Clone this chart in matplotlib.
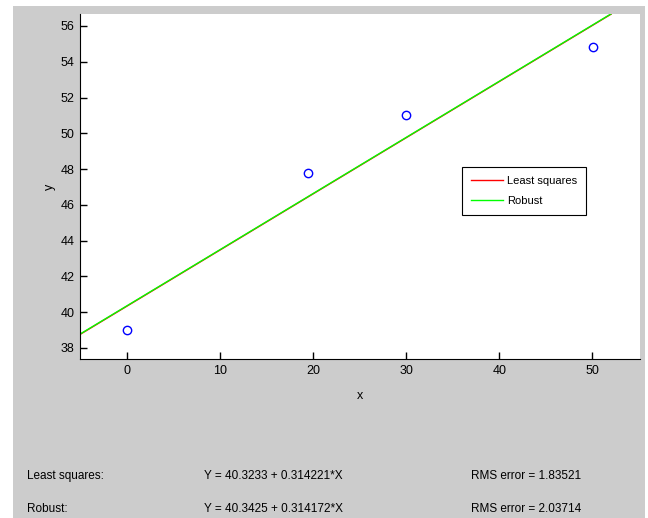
import matplotlib
matplotlib.use("Agg")
import matplotlib.pyplot as plt
from matplotlib.patches import Rectangle

plt.rcParams['font.family'] = ['Liberation Sans', 'DejaVu Sans']

# data
x_data = [0, 19.5, 30, 50.1]
y_data = [39.0, 47.8, 51.0, 54.8]

# fit coefficients (intercept, slope) and RMS errors, as printed
fit_names = ["Least squares", "Robust"]
fit_coefs = [(40.3233, 0.314221), (40.3425, 0.314172)]
fit_rms = [1.83521, 2.03714]
fit_colors = ["#ff0000", "#00ff00"]
line_x = [-5, 52]

fig = plt.figure(figsize=(6.48, 5.18), dpi=100, facecolor="white")
W, H = 648, 518

# grey MATLAB-like figure panel, behind everything
fig.patches.append(Rectangle((13 / W, 0), (645 - 13) / W, (518 - 6) / H,
                             transform=fig.transFigure, facecolor="#cccccc",
                             edgecolor="none", zorder=-10))

ax = fig.add_axes([80 / W, (518 - 359) / H, 560 / W, 345 / H])
ax.set_zorder(1)
ax.set_facecolor("white")

ax.plot(x_data, y_data, "o", color="blue", markerfacecolor="none",
        markersize=6, markeredgewidth=1.0, zorder=3)

for name, (b, m), c in zip(fit_names, fit_coefs, fit_colors):
    ax.plot(line_x, [b + m * xx for xx in line_x], color=c, linewidth=1.0,
            label=name)

ax.set_xlim(-5, 55.1)
ax.set_ylim(37.38, 56.67)
ax.set_xticks(range(0, 51, 10))
ax.set_yticks(range(38, 57, 2))
ax.tick_params(direction="in", length=5, width=1, labelsize=9,
               colors="black", pad=4)
ax.spines["top"].set_visible(False)
ax.spines["right"].set_visible(False)
ax.set_xlabel("x", fontsize=9, labelpad=10)
ax.set_ylabel("y", fontsize=9, labelpad=3)

leg = ax.legend(loc="upper left", bbox_to_anchor=(0.682, 0.557),
                fontsize=8, fancybox=False, framealpha=1,
                edgecolor="black", handlelength=2.9, borderpad=0.8,
                labelspacing=0.95, handletextpad=0.4, borderaxespad=0)
leg.get_frame().set_linewidth(0.8)

# summary rows below the axes
row_y = [476, 509]
for i, name in enumerate(fit_names):
    b, m = fit_coefs[i]
    yy = 1 - row_y[i] / H
    fig.text(27 / W, yy, name + ":", fontsize=8.5, va="center")
    fig.text(204 / W, yy, "Y = %g + %g*X" % (b, m), fontsize=8.5, va="center")
    fig.text(471 / W, yy, "RMS error = %g" % fit_rms[i], fontsize=8.5,
             va="center")

fig.savefig("out.png", dpi=100, facecolor="white")
